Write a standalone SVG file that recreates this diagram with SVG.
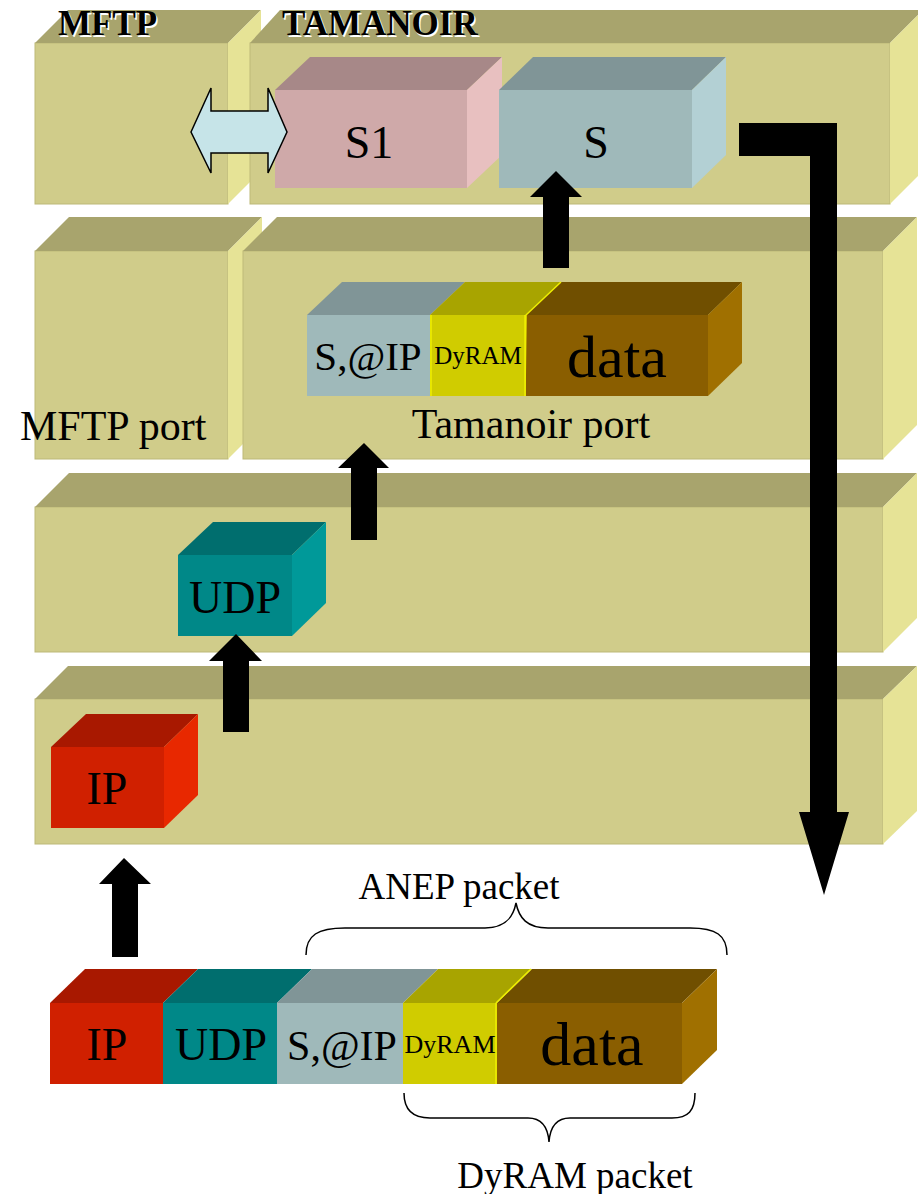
<svg xmlns="http://www.w3.org/2000/svg" width="918" height="1194" viewBox="0 0 918 1194">
  <style>
    text { font-family: "Liberation Serif", "Times New Roman", serif; fill: #000; }
    .c { text-anchor: middle; }
    .lf { fill: #D0CC8A; }
    .lt { fill: #A8A46D; }
    .ls { fill: #E6E396; }
    .edge { stroke: #BDB978; stroke-width: 1; }
    .arrow { fill: #000; }
    .brace { fill: none; stroke: #000; stroke-width: 1.5; }
    .title { font-weight: bold; font-size: 35px; }
    .shadow { fill: #fff; }
  </style>

  <!-- layer boxes -->
  <g id="layer1-mftp">
    <rect class="lf edge" x="35" y="43" width="193" height="161"/>
    <polygon class="lt" points="35,43 68,10 261,10 228,43"/>
    <polygon class="ls" points="228,43 261,10 261,171 228,204"/>
    <text class="title shadow" x="59.5" y="36.5">MFTP</text>
    <text class="title" x="58" y="35">MFTP</text>
  </g>
  <g id="layer1-tamanoir">
    <rect class="lf edge" x="250" y="43" width="640" height="161"/>
    <polygon class="lt" points="250,43 280,10 923,10 890,43"/>
    <polygon class="ls" points="890,43 923,10 923,171 890,204"/>
    <text class="title shadow" x="283.5" y="36.5" font-size="36">TAMANOIR</text>
    <text class="title" x="282" y="35" font-size="36">TAMANOIR</text>
  </g>
  <g id="layer2-mftp">
    <rect class="lf edge" x="35" y="251" width="193" height="208"/>
    <polygon class="lt" points="35,251 69,217 262,217 228,251"/>
    <polygon class="ls" points="228,251 262,217 262,425 228,459"/>
    <text x="20" y="440" font-size="42">MFTP port</text>
  </g>
  <g id="layer2-tamanoir">
    <rect class="lf edge" x="243" y="251" width="640" height="208"/>
    <polygon class="lt" points="243,251 277,217 917,217 883,251"/>
    <polygon class="ls" points="883,251 917,217 917,425 883,459"/>
    <text class="c" x="531" y="438" font-size="42">Tamanoir port</text>
  </g>
  <g id="layer3">
    <rect class="lf edge" x="35" y="507" width="848" height="145"/>
    <polygon class="lt" points="35,507 69,473 917,473 883,507"/>
    <polygon class="ls" points="883,507 917,473 917,618 883,652"/>
  </g>
  <g id="layer4">
    <rect class="lf edge" x="35" y="699" width="848" height="145"/>
    <polygon class="lt" points="35,699 68,666 917,666 883,699"/>
    <polygon class="ls" points="883,699 917,666 917,811 883,844"/>
  </g>

  <!-- service blocks -->
  <g id="s1">
    <rect x="275" y="90" width="192" height="98" fill="#CFA9A9"/>
    <polygon points="275,90 310,57 502,57 467,90" fill="#A78888"/>
    <polygon points="467,90 502,57 502,155 467,188" fill="#E8C0C0"/>
    <text class="c" x="369" y="158" font-size="46">S1</text>
  </g>
  <g id="s">
    <rect x="499" y="90" width="193" height="98" fill="#9FB9BA"/>
    <polygon points="499,90 533,57 726,57 692,90" fill="#809597"/>
    <polygon points="692,90 726,57 726,155 692,188" fill="#B3D0D4"/>
    <text class="c" x="596" y="158" font-size="46">S</text>
  </g>

  <!-- packet inside Tamanoir port -->
  <g id="packet-tamanoir">
    <rect x="307" y="315" width="123" height="81" fill="#9FB9BA"/>
    <polygon points="307,315 342,282 465,282 430,315" fill="#809597"/>
    <rect x="430" y="315" width="96" height="81" fill="#D0CC00"/>
    <polygon points="430,315 465,282 561,282 526,315" fill="#A8A400"/>
    <rect x="526" y="315" width="182" height="81" fill="#8A5E00"/>
    <polygon points="526,315 561,282 742,282 708,315" fill="#704F00"/>
    <polygon points="708,315 742,282 742,363 708,396" fill="#A07000"/>
    <path d="M431,315 V396 M525,315 V396 L526,315 L561,282" fill="none" stroke="#EEEE00" stroke-width="1.5"/>
    <text class="c" x="368" y="370" font-size="41">S,@IP</text>
    <text class="c" x="478" y="364" font-size="25">DyRAM</text>
    <text class="c" x="617" y="377" font-size="60">data</text>
  </g>

  <g id="udp">
    <rect x="178" y="555" width="114" height="81" fill="#008888"/>
    <polygon points="178,555 213,522 326,522 292,555" fill="#006E6E"/>
    <polygon points="292,555 326,522 326,603 292,636" fill="#009999"/>
    <text class="c" x="235" y="613" font-size="46">UDP</text>
  </g>
  <g id="ip">
    <rect x="51" y="747" width="113" height="81" fill="#D02000"/>
    <polygon points="51,747 86,714 198,714 164,747" fill="#A81800"/>
    <polygon points="164,747 198,714 198,795 164,828" fill="#E82800"/>
    <text class="c" x="107" y="804" font-size="46">IP</text>
  </g>

  <!-- full packet -->
  <g id="packet-full">
    <rect x="50" y="1003" width="113" height="81" fill="#D02000"/>
    <polygon points="50,1003 85,969 198,969 163,1003" fill="#A81800"/>
    <rect x="163" y="1003" width="114" height="81" fill="#008888"/>
    <polygon points="163,1003 198,969 312,969 277,1003" fill="#006E6E"/>
    <rect x="277" y="1003" width="126" height="81" fill="#9FB9BA"/>
    <polygon points="277,1003 312,969 438,969 403,1003" fill="#809597"/>
    <rect x="403" y="1003" width="94" height="81" fill="#D0CC00"/>
    <polygon points="403,1003 438,969 532,969 497,1003" fill="#A8A400"/>
    <rect x="497" y="1003" width="185" height="81" fill="#8A5E00"/>
    <polygon points="497,1003 532,969 717,969 682,1003" fill="#704F00"/>
    <polygon points="682,1003 717,969 717,1050 682,1084" fill="#A07000"/>
    <path d="M496,1003 V1084 M496,1003 L531,969" fill="none" stroke="#EEEE00" stroke-width="1.5"/>
    <text class="c" x="107" y="1060" font-size="46">IP</text>
    <text class="c" x="221" y="1060" font-size="46">UDP</text>
    <text class="c" x="342" y="1060" font-size="42">S,@IP</text>
    <text class="c" x="450" y="1053" font-size="26">DyRAM</text>
    <text class="c" x="592" y="1065" font-size="62">data</text>
  </g>

  <g id="anep-label">
    <path class="brace" d="M306,955 C306,935 318,928 345,928 L485,928 C505,928 513,918 516,903 C519,918 527,928 548,928 L690,928 C716,928 727,935 727,955"/>
    <text class="c" x="459" y="899" font-size="37">ANEP packet</text>
  </g>
  <g id="dyram-label">
    <path class="brace" d="M404,1093 C404,1111 414,1118 430,1118 L528,1118 C542,1118 548,1128 549,1142 C550,1128 556,1118 570,1118 L672,1118 C688,1118 695,1111 695,1093"/>
    <text class="c" x="575" y="1188" font-size="37">DyRAM packet</text>
  </g>

  <!-- connectors -->
  <g id="connectors">
    <polygon points="191,132 211,88 211,111 268,111 268,88 287,132 268,173 268,153 211,153 211,173" fill="#C6E4E8" stroke="#000" stroke-width="1.5" stroke-linejoin="miter"/>
    <polygon class="arrow" points="556,171 582,197 569,197 569,268 543,268 543,197 530,197"/>
    <polygon class="arrow" points="364,443 389,468 377,468 377,540 351,540 351,468 338,468"/>
    <polygon class="arrow" points="236,634 262,661 249,661 249,732 223,732 223,661 209,661"/>
    <polygon class="arrow" points="124,858 151,884 138,884 138,957 112,957 112,884 99,884"/>
    <polygon class="arrow" points="739,123 837,123 837,812 849,812 824,895 799,812 810,812 810,156 739,156"/>
  </g>
</svg>
